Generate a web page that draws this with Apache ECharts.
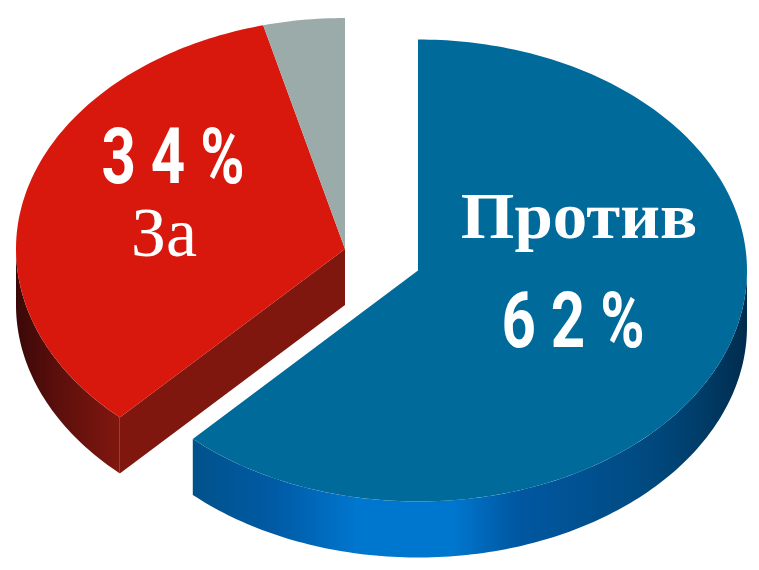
<!DOCTYPE html>
<html><head><meta charset="utf-8">
<style>html,body{margin:0;padding:0;background:#fff}#c{width:759px;height:570px}</style>
<script src="https://cdn.jsdelivr.net/npm/echarts@6/dist/echarts.min.js"></script>
</head><body><div id="c"></div>
<script>
const categories = ['Против', 'За', 'Другое'];
const values = [62, 34, 4];
const showLabel = [true, true, false];

const total = values.reduce((a, b) => a + b, 0);
const RX = 329, RY = 231, DEPTH = 56;
const centers = [[418, 270.5], [345, 249], [345, 249]];
const topColors = ['#006b9b', '#d8180c', '#9aabaa'];
const cutColor = '#80170f';
const wallStops = [
  [[0,'#00528a'],[0.15,'#005ba6'],[0.3,'#0077cf'],[0.47,'#0077cf'],[0.58,'#0058a3'],[0.82,'#004a80'],[0.92,'#003c68'],[1,'#002c4d']],
  [[0,'#3a0808'],[0.4,'#5c0f0c'],[1,'#80170f']],
  [[0,'#9aabaa'],[1,'#9aabaa']]
];
const pt = (c, deg, dy) => {
  const t = deg * Math.PI / 180;
  return [c[0] + RX * Math.sin(t), c[1] - RY * Math.cos(t) + (dy || 0)];
};
const arc = (c, a, b, dy) => {
  const out = [], n = Math.max(2, Math.ceil(Math.abs(b - a)));
  for (let i = 0; i <= n; i++) out.push(pt(c, a + (b - a) * i / n, dy));
  return out;
};
const textLayout = [
  [{key:'name', x:579, y:221, font:'bold 66px "Liberation Serif"', sx:1.045},
   {key:'pct',  x:573, y:327, font:'bold 78px Roboto', sx:0.77}],
  [{key:'pct',  x:173, y:163, font:'bold 78px Roboto', sx:0.77},
   {key:'name', x:164, y:238, font:'70px "Liberation Serif"', sx:1}]
];
function renderItem(params, api) {
  const i = params.dataIndex;
  const before = values.slice(0, i).reduce((a, b) => a + b, 0);
  const a0 = before / total * 360, a1 = a0 + api.value(0) / total * 360;
  const c = centers[i];
  const kids = [];
  const wa = Math.max(a0, 90), wb = Math.min(a1, 270);
  if (i === 1) {
    const e = pt(c, a0);
    kids.push({type:'polygon', shape:{points:[e, c, [c[0], c[1]+DEPTH], [e[0], e[1]+DEPTH]]},
      style:{fill:cutColor}});
  }
  if (wb > wa) {
    const pts = arc(c, wa, wb, 0).concat(arc(c, wb, wa, DEPTH));
    kids.push({type:'polygon', shape:{points:pts}, style:{
      fill:new echarts.graphic.LinearGradient(0,0,1,0, wallStops[i].map(s=>({offset:s[0],color:s[1]})))
    }});
  }
  kids.push({type:'polygon', shape:{points:[c].concat(arc(c, a0, a1, 0))}, style:{fill:topColors[i]}});
  if (showLabel[i]) {
    textLayout[i].forEach(t => {
      const str = t.key === 'name' ? categories[i]
        : String(api.value(0)).split('').join(' ') + ' %';
      kids.push({type:'text', x:t.x, y:t.y, scaleX:t.sx, z2:10, style:{
        text:str, font:t.font, fill:'#fff', align:'center', verticalAlign:'middle'}});
    });
  }
  return {type:'group', children:kids};
}
const chart = echarts.init(document.getElementById('c'), null, {renderer:'canvas'});
chart.setOption({
  animation:false,
  backgroundColor:'#fff',
  series:[{type:'custom', coordinateSystem:'none', renderItem,
    data:categories.map((n,i)=>({name:n, value:[values[i]]}))}]
});
</script></body></html>
